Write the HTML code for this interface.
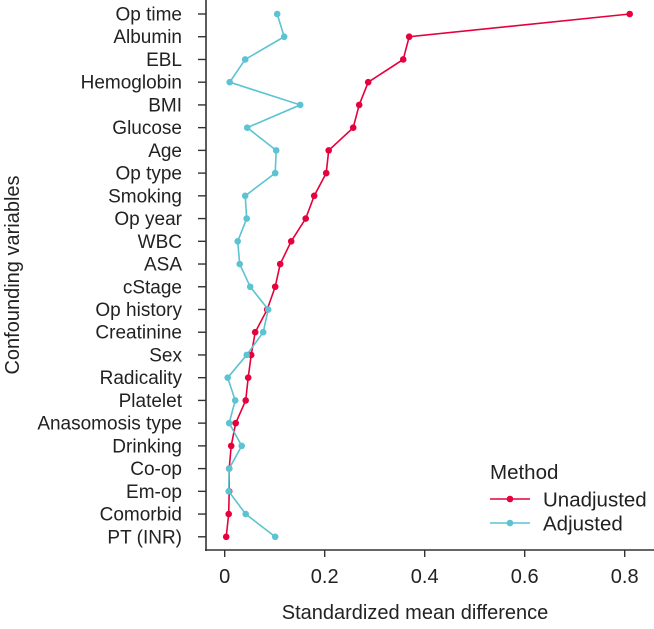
<!DOCTYPE html>
<html><head><meta charset="utf-8"><style>
body{margin:0;background:#fff}
svg text{font-family:"Liberation Sans",Arial,sans-serif;fill:#222}
</style></head><body>
<svg id="chart" width="654" height="624" xmlns="http://www.w3.org/2000/svg"></svg>
<script>
const categories=["Op time","Albumin","EBL","Hemoglobin","BMI","Glucose","Age","Op type","Smoking","Op year","WBC","ASA","cStage","Op history","Creatinine","Sex","Radicality","Platelet","Anasomosis type","Drinking","Co-op","Em-op","Comorbid","PT (INR)"];
const unadjusted=[0.81,0.369,0.357,0.287,0.269,0.257,0.208,0.203,0.179,0.162,0.133,0.111,0.101,0.085,0.061,0.053,0.047,0.042,0.022,0.013,0.009,0.009,0.008,0.003];
const adjusted=[0.105,0.119,0.041,0.010,0.151,0.045,0.103,0.101,0.041,0.044,0.026,0.030,0.051,0.087,0.077,0.044,0.006,0.021,0.009,0.034,0.009,0.008,0.042,0.101];
const xTicks=[0,0.2,0.4,0.6,0.8];
const xTickLabels=["0","0.2","0.4","0.6","0.8"];
const NS="http://www.w3.org/2000/svg";
const svg=document.getElementById('chart');
const x=v=>224.7+v*500;
const y=i=>14+i*22.73;
function mk(t,a,p){const e=document.createElementNS(NS,t);for(const k in a)e.setAttribute(k,a[k]);(p||svg).appendChild(e);return e;}
const ya=mk('line',{x1:206,y1:0,x2:206,y2:551,stroke:'#333','stroke-width':1.6});


const xa=mk('line',{x1:205,y1:550,x2:654,y2:550,stroke:'#333','stroke-width':1.6});


categories.forEach((c,i)=>{
 mk('line',{x1:198,y1:y(i),x2:206,y2:y(i),stroke:'#333','stroke-width':1.4});
 const t=mk('text',{x:182,y:y(i)+6.5,'text-anchor':'end','font-size':19});
 t.textContent=c;
 
 
});
xTicks.forEach((v,i)=>{
 mk('line',{x1:x(v),y1:550,x2:x(v),y2:557,stroke:'#333','stroke-width':1.4});
 const t=mk('text',{x:x(v),y:583,'text-anchor':'middle','font-size':20});
 t.textContent=xTickLabels[i];
 
 
});
const xt=mk('text',{x:415,y:619,'text-anchor':'middle','font-size':20});
xt.textContent='Standardized mean difference';


const yt=mk('text',{x:19,y:275,'text-anchor':'middle','font-size':20,transform:'rotate(-90 19 275)'});
yt.textContent='Confounding variables';


function series(vals,col,name){
 const g=mk('g',{});
 
 
 const l=mk('polyline',{points:vals.map((v,i)=>x(v)+','+y(i)).join(' '),fill:'none',stroke:col,'stroke-width':1.6},g);
 
 
 vals.forEach((v,i)=>{
  const c=mk('circle',{cx:x(v),cy:y(i),r:3.3,fill:col},g);
  
  
 });
}
series(unadjusted,'#e6003c','unadjusted');
series(adjusted,'#5bc3d1','adjusted');
const lg=mk('g',{});


const lt=mk('text',{x:490,y:479,'font-size':20.5},lg);lt.textContent='Method';
[['Unadjusted','#e6003c',499],['Adjusted','#5bc3d1',523]].forEach(([n,c,yy])=>{
 const e=mk('g',{},lg);
 
 
 mk('line',{x1:490,y1:yy,x2:530,y2:yy,stroke:c,'stroke-width':1.6},e);
 mk('circle',{cx:510,cy:yy,r:3.3,fill:c},e);
 const t=mk('text',{x:543,y:yy+7.5,'font-size':20.5},e);t.textContent=n;
});
</script>
</body></html>
